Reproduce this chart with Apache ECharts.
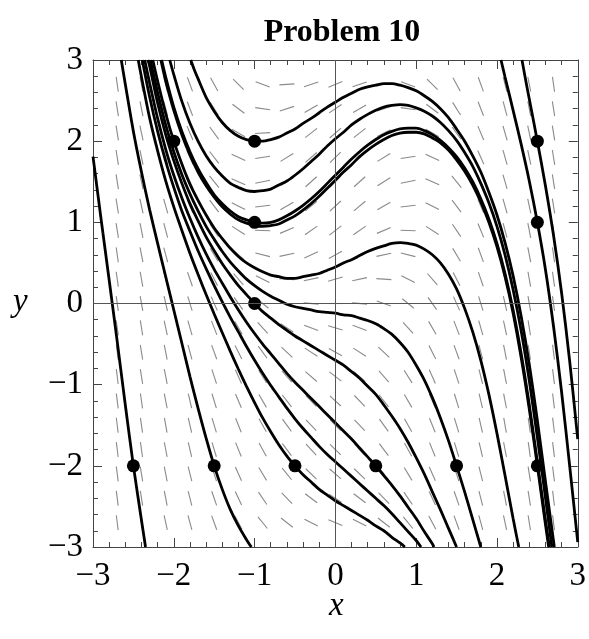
<!DOCTYPE html>
<html>
<head>
<meta charset="utf-8">
<script src="https://cdn.jsdelivr.net/npm/echarts@6/dist/echarts.min.js"></script>
<style>
html,body{margin:0;padding:0;background:#fff;}
#chart{width:589px;height:639px;}
</style>
</head>
<body>
<div id="chart"></div>
<script>
// ---- Data ----
const titleText = 'Problem 10';
const xTicks = [-3, -2, -1, 0, 1, 2, 3];
const yTicks = [-3, -2, -1, 0, 1, 2, 3];

// slope-field grid (dash centres) and dash angles in degrees, rows from y=2.7 (top) to y=-2.7
const fieldX = [-2.7,-2.4,-2.1,-1.8,-1.5,-1.2,-0.9,-0.6,-0.3,0,0.3,0.6,0.9,1.2,1.5,1.8,2.1,2.4,2.7];
const fieldY = [2.7,2.4,2.1,1.8,1.5,1.2,0.9,0.6,0.3,0,-0.3,-0.6,-0.9,-1.2,-1.5,-1.8,-2.1,-2.4,-2.7];
const fieldAngles = [
  [-82,-79,-76,-70,-61,-45,-21,4,19,23,19,4,-21,-45,-61,-70,-76,-79,-82],
  [-81,-79,-75,-69,-58,-37,-8,18,30,34,30,18,-8,-37,-58,-69,-75,-79,-81],
  [-81,-78,-74,-67,-54,-30,3,27,38,41,38,27,3,-30,-54,-67,-74,-78,-81],
  [-81,-78,-74,-66,-52,-25,9,32,41,44,41,32,9,-25,-52,-66,-74,-78,-81],
  [-81,-78,-74,-66,-51,-24,11,32,42,45,42,32,11,-24,-51,-66,-74,-78,-81],
  [-81,-78,-74,-67,-53,-27,7,30,40,43,40,30,7,-27,-53,-67,-74,-78,-81],
  [-81,-79,-75,-68,-56,-33,-2,23,35,38,35,23,-2,-33,-56,-68,-75,-79,-81],
  [-82,-79,-75,-70,-59,-41,-14,12,25,29,25,12,-14,-41,-59,-70,-75,-79,-82],
  [-82,-80,-76,-71,-63,-49,-27,-4,12,16,12,-4,-27,-49,-63,-71,-76,-80,-82],
  [-82,-80,-77,-73,-66,-55,-39,-20,-5,0,-5,-20,-39,-55,-66,-73,-77,-80,-82],
  [-82,-81,-78,-74,-69,-60,-48,-33,-21,-16,-21,-33,-48,-60,-69,-74,-78,-81,-82],
  [-83,-81,-79,-75,-70,-63,-54,-43,-33,-29,-33,-43,-54,-63,-70,-75,-79,-81,-83],
  [-83,-81,-79,-76,-72,-66,-58,-49,-41,-38,-41,-49,-58,-66,-72,-76,-79,-81,-83],
  [-83,-82,-79,-77,-73,-67,-60,-52,-46,-43,-46,-52,-60,-67,-73,-77,-79,-82,-83],
  [-83,-82,-80,-77,-73,-68,-61,-54,-47,-45,-47,-54,-61,-68,-73,-77,-80,-82,-83],
  [-83,-82,-79,-77,-73,-68,-61,-53,-47,-44,-47,-53,-61,-68,-73,-77,-79,-82,-83],
  [-83,-81,-79,-76,-72,-66,-59,-51,-44,-41,-44,-51,-59,-66,-72,-76,-79,-81,-83],
  [-83,-81,-79,-76,-71,-65,-56,-46,-37,-34,-37,-46,-56,-65,-71,-76,-79,-81,-83],
  [-83,-81,-78,-75,-70,-62,-51,-38,-27,-23,-27,-38,-51,-62,-70,-75,-78,-81,-83]
];

// marked initial points
const pointsX = [-1, -1, -1, -2, 2.5, 2.5, 2.5, -2.5, -1.5, -0.5, 0.5, 1.5];
const pointsY = [ 2,  1,  0,  2,   2,   1,  -2,   -2,   -2,   -2,  -2,  -2];

// solution curves, [x, y] pairs
const curveA = [[-1.79,3.0],[-1.75,2.89],[-1.7,2.77],[-1.6,2.54],[-1.5,2.37],[-1.4,2.23],[-1.3,2.13],[-1.2,2.06],[-1.1,2.02],[-1.0,2.0],[-0.9,2.0],[-0.8,2.02],[-0.7,2.05],[-0.6,2.10],[-0.5,2.15],[-0.4,2.22],[-0.3,2.28],[-0.2,2.35],[-0.1,2.42],[0,2.48],[0.1,2.54],[0.2,2.59],[0.3,2.64],[0.4,2.67],[0.5,2.69],[0.6,2.71],[0.7,2.71],[0.8,2.69],[0.9,2.66],[1.0,2.62],[1.1,2.56],[1.2,2.49],[1.3,2.40],[1.4,2.29],[1.5,2.15],[1.6,2.0],[1.7,1.82],[1.8,1.62],[1.9,1.37],[2.0,1.09],[2.1,0.75],[2.2,0.34],[2.3,-0.16],[2.4,-0.75],[2.5,-1.44],[2.6,-2.19],[2.71,-3.0]];
const curveB = [[-2.05,3.0],[-2.0,2.82],[-1.9,2.49],[-1.8,2.22],[-1.7,2.0],[-1.6,1.82],[-1.5,1.68],[-1.4,1.57],[-1.3,1.48],[-1.2,1.43],[-1.1,1.39],[-1.0,1.38],[-0.9,1.39],[-0.8,1.41],[-0.7,1.46],[-0.6,1.51],[-0.5,1.58],[-0.4,1.66],[-0.3,1.75],[-0.2,1.84],[-0.1,1.94],[0,2.03],[0.1,2.11],[0.2,2.20],[0.3,2.27],[0.4,2.33],[0.5,2.38],[0.6,2.42],[0.7,2.44],[0.8,2.45],[0.9,2.44],[1.0,2.41],[1.1,2.37],[1.2,2.31],[1.3,2.23],[1.4,2.13],[1.5,2.01],[1.6,1.86],[1.7,1.69],[1.8,1.48],[1.9,1.24],[2.0,0.95],[2.1,0.60],[2.2,0.17],[2.3,-0.34],[2.4,-0.95],[2.5,-1.65],[2.6,-2.39],[2.68,-3.0]];
const curveC = [[-2.15,3.0],[-2.1,2.79],[-2.0,2.42],[-1.9,2.12],[-1.8,1.87],[-1.7,1.66],[-1.6,1.49],[-1.5,1.34],[-1.4,1.23],[-1.3,1.14],[-1.2,1.07],[-1.1,1.03],[-1.0,1.0],[-0.9,0.99],[-0.8,1.0],[-0.7,1.03],[-0.6,1.08],[-0.5,1.14],[-0.4,1.21],[-0.3,1.29],[-0.2,1.38],[-0.1,1.48],[0,1.58],[0.1,1.68],[0.2,1.78],[0.3,1.87],[0.4,1.95],[0.5,2.02],[0.6,2.08],[0.7,2.12],[0.8,2.15],[0.9,2.16],[1.0,2.16],[1.1,2.13],[1.2,2.08],[1.3,2.01],[1.4,1.92],[1.5,1.81],[1.6,1.67],[1.7,1.50],[1.8,1.29],[1.9,1.04],[2.0,0.74],[2.1,0.37],[2.2,-0.08],[2.3,-0.62],[2.4,-1.25],[2.5,-1.95],[2.6,-2.67],[2.65,-3.0]];
const curveD = [[-2.16,3.0],[-2.1,2.74],[-2.0,2.38],[-1.9,2.08],[-1.8,1.83],[-1.7,1.62],[-1.6,1.45],[-1.5,1.31],[-1.4,1.19],[-1.3,1.10],[-1.2,1.03],[-1.1,0.99],[-1.0,0.96],[-0.9,0.95],[-0.8,0.96],[-0.7,0.98],[-0.6,1.03],[-0.5,1.08],[-0.4,1.15],[-0.3,1.23],[-0.2,1.32],[-0.1,1.42],[0,1.52],[0.1,1.62],[0.2,1.71],[0.3,1.81],[0.4,1.89],[0.5,1.96],[0.6,2.02],[0.7,2.07],[0.8,2.10],[0.9,2.11],[1.0,2.11],[1.1,2.09],[1.2,2.04],[1.3,1.98],[1.4,1.89],[1.5,1.77],[1.6,1.63],[1.7,1.46],[1.8,1.25],[1.9,1.0],[2.0,0.70],[2.1,0.33],[2.2,-0.12],[2.3,-0.67],[2.4,-1.30],[2.5,-2.0],[2.6,-2.72],[2.64,-3.0]];
const curveE = [[-2.26,3.0],[-2.2,2.74],[-2.1,2.34],[-2.0,2.0],[-1.9,1.72],[-1.8,1.47],[-1.7,1.27],[-1.6,1.09],[-1.5,0.93],[-1.4,0.80],[-1.3,0.68],[-1.2,0.58],[-1.1,0.50],[-1.0,0.44],[-0.9,0.39],[-0.8,0.35],[-0.7,0.33],[-0.6,0.31],[-0.5,0.31],[-0.4,0.33],[-0.3,0.35],[-0.2,0.37],[-0.1,0.41],[0,0.45],[0.1,0.50],[0.2,0.54],[0.3,0.59],[0.4,0.64],[0.5,0.68],[0.6,0.71],[0.7,0.74],[0.8,0.75],[0.9,0.74],[1.0,0.72],[1.1,0.67],[1.2,0.60],[1.3,0.50],[1.4,0.36],[1.5,0.18],[1.6,-0.06],[1.7,-0.35],[1.8,-0.70],[1.9,-1.12],[2.0,-1.60],[2.1,-2.12],[2.2,-2.65],[2.27,-3.0]];
const curveF = [[-2.32,3.0],[-2.3,2.93],[-2.2,2.47],[-2.1,2.08],[-2.0,1.76],[-1.9,1.48],[-1.8,1.23],[-1.7,1.02],[-1.6,0.82],[-1.5,0.65],[-1.4,0.49],[-1.3,0.35],[-1.2,0.22],[-1.1,0.11],[-1.0,0.0],[-0.9,-0.10],[-0.8,-0.18],[-0.7,-0.26],[-0.6,-0.33],[-0.5,-0.40],[-0.4,-0.46],[-0.3,-0.52],[-0.2,-0.58],[-0.1,-0.64],[0,-0.70],[0.1,-0.76],[0.2,-0.84],[0.3,-0.92],[0.4,-1.02],[0.5,-1.12],[0.6,-1.25],[0.7,-1.39],[0.8,-1.54],[0.9,-1.71],[1.0,-1.90],[1.1,-2.10],[1.2,-2.32],[1.3,-2.54],[1.4,-2.77],[1.5,-3.0]];
const curveG = [[-2.29,3.0],[-2.2,2.60],[-2.1,2.20],[-2.0,1.87],[-1.9,1.59],[-1.8,1.35],[-1.7,1.14],[-1.6,0.95],[-1.5,0.79],[-1.4,0.64],[-1.3,0.51],[-1.2,0.40],[-1.1,0.30],[-1.0,0.22],[-0.9,0.15],[-0.8,0.09],[-0.7,0.04],[-0.6,-0.01],[-0.5,-0.04],[-0.4,-0.06],[-0.3,-0.08],[-0.2,-0.10],[-0.1,-0.11],[0,-0.12],[0.1,-0.14],[0.2,-0.15],[0.3,-0.18],[0.4,-0.21],[0.5,-0.25],[0.6,-0.31],[0.7,-0.38],[0.8,-0.48],[0.9,-0.60],[1.0,-0.76],[1.1,-0.94],[1.2,-1.16],[1.3,-1.41],[1.4,-1.69],[1.5,-2.0],[1.6,-2.32],[1.7,-2.66],[1.8,-3.0]];
const curveH = [[-2.36,3.0],[-2.3,2.72],[-2.2,2.28],[-2.1,1.90],[-2.0,1.58],[-1.9,1.30],[-1.8,1.05],[-1.7,0.82],[-1.6,0.61],[-1.5,0.42],[-1.4,0.25],[-1.3,0.08],[-1.2,-0.08],[-1.1,-0.23],[-1.0,-0.37],[-0.9,-0.50],[-0.8,-0.62],[-0.7,-0.74],[-0.6,-0.86],[-0.5,-0.97],[-0.4,-1.07],[-0.3,-1.17],[-0.2,-1.27],[-0.1,-1.37],[0,-1.47],[0.1,-1.57],[0.2,-1.67],[0.3,-1.78],[0.4,-1.89],[0.5,-2.0],[0.6,-2.12],[0.7,-2.24],[0.8,-2.37],[0.9,-2.51],[1.0,-2.65],[1.1,-2.81],[1.2,-2.96],[1.22,-3.0]];
const curveI = [[-2.39,3.0],[-2.3,2.55],[-2.2,2.12],[-2.1,1.75],[-2.0,1.43],[-1.9,1.14],[-1.8,0.89],[-1.7,0.65],[-1.6,0.43],[-1.5,0.22],[-1.4,0.02],[-1.3,-0.17],[-1.2,-0.35],[-1.1,-0.53],[-1.0,-0.70],[-0.9,-0.86],[-0.8,-1.01],[-0.7,-1.15],[-0.6,-1.29],[-0.5,-1.42],[-0.4,-1.54],[-0.3,-1.65],[-0.2,-1.76],[-0.1,-1.86],[0,-1.95],[0.1,-2.04],[0.2,-2.13],[0.3,-2.22],[0.4,-2.31],[0.5,-2.40],[0.6,-2.49],[0.7,-2.59],[0.8,-2.70],[0.9,-2.81],[1.0,-2.92],[1.06,-3.0]];
const curveJ = [[-2.44,3.0],[-2.4,2.79],[-2.3,2.29],[-2.2,1.88],[-2.1,1.51],[-2.0,1.19],[-1.9,0.90],[-1.8,0.62],[-1.7,0.36],[-1.6,0.11],[-1.5,-0.13],[-1.4,-0.36],[-1.3,-0.59],[-1.2,-0.81],[-1.1,-1.02],[-1.0,-1.22],[-0.9,-1.41],[-0.8,-1.58],[-0.7,-1.74],[-0.6,-1.88],[-0.5,-2.0],[-0.4,-2.11],[-0.3,-2.20],[-0.2,-2.29],[-0.1,-2.36],[0,-2.43],[0.1,-2.49],[0.2,-2.55],[0.3,-2.61],[0.4,-2.67],[0.5,-2.74],[0.6,-2.80],[0.7,-2.88],[0.8,-2.95],[0.86,-3.0]];
const curveK = [[-2.65,3.0],[-2.6,2.70],[-2.5,2.12],[-2.4,1.62],[-2.3,1.16],[-2.2,0.74],[-2.1,0.33],[-2.0,-0.08],[-1.9,-0.49],[-1.8,-0.90],[-1.7,-1.29],[-1.6,-1.66],[-1.5,-2.0],[-1.4,-2.29],[-1.3,-2.54],[-1.2,-2.74],[-1.1,-2.91],[-1.04,-3.0]];
const curveL = [[-3.0,1.81],[-2.9,1.04],[-2.8,0.29],[-2.7,-0.47],[-2.6,-1.25],[-2.5,-2.0],[-2.4,-2.67],[-2.35,-3.0]];
const curveM = [[2.31,3.0],[2.35,2.78],[2.4,2.52],[2.5,2.0],[2.6,1.45],[2.7,0.84],[2.8,0.13],[2.9,-0.71],[3.0,-1.67]];
const curveN = [[2.05,3.0],[2.1,2.79],[2.2,2.38],[2.3,1.96],[2.4,1.51],[2.5,1.0],[2.6,0.42],[2.7,-0.28],[2.8,-1.09],[2.9,-2.0],[3.0,-2.94]];
const curves = [curveA, curveB, curveC, curveD, curveE, curveF, curveG, curveH, curveI, curveJ, curveK, curveL, curveM, curveN];

// ---- Chart ----
const serif = '"Liberation Serif", "DejaVu Serif", serif';
const fieldData = [];
fieldY.forEach((yy, i) => fieldX.forEach((xx, j) => fieldData.push([xx, yy, fieldAngles[i][j]])));
const dotData = pointsX.map((x, i) => [x, pointsY[i]]);
const minus = v => String(v).replace('-', '\u2212');

const chart = echarts.init(document.getElementById('chart'), null, {renderer: 'canvas'});
const frameColor = '#444';
function makeAxis(kind, pos, show) {
  return {
    type: 'value', position: pos, min: -3, max: 3, interval: 1,
    axisLine: {show: true, onZero: false, lineStyle: {color: frameColor, width: 1}},
    axisTick: {show: true, inside: true, length: 9, lineStyle: {color: frameColor}},
    minorTick: {show: true, splitNumber: 5, length: 5, lineStyle: {color: frameColor}},
    splitLine: {show: false},
    axisLabel: {show: show, formatter: minus, color: '#000', fontFamily: serif, fontSize: 33,
                margin: kind === 'x' ? 13 : 10}
  };
}

const series = [];
series.push({
  type: 'custom', xAxisIndex: 0, yAxisIndex: 0, silent: true, z: 1,
  data: fieldData,
  renderItem: function (params, api) {
    const c = api.coord([api.value(0), api.value(1)]);
    const a = api.value(2) * Math.PI / 180;
    const h = 7.5;
    const dx = h * Math.cos(a), dy = h * Math.sin(a);
    return {type: 'line', shape: {x1: c[0] - dx, y1: c[1] + dy, x2: c[0] + dx, y2: c[1] - dy},
            style: {stroke: '#8a8a8a', lineWidth: 1.1}};
  }
});
series.push({
  type: 'line', data: [], z: 2, silent: true,
  markLine: {symbol: 'none', silent: true, label: {show: false},
    lineStyle: {color: '#555', width: 1, type: 'solid'},
    data: [{xAxis: 0}, {yAxis: 0}]}
});
curves.forEach(c => series.push({
  type: 'line', data: c, showSymbol: false, smooth: 0.3, clip: true, z: 3, silent: true,
  lineStyle: {color: '#000', width: 2.8}
}));
series.push({
  type: 'scatter', data: dotData, symbolSize: 13, z: 4, silent: true,
  itemStyle: {color: '#000', opacity: 1}
});

chart.setOption({
  animation: false,
  backgroundColor: '#fff',
  title: {text: titleText, left: 337, top: 12, textAlign: 'center',
    textStyle: {fontFamily: serif, fontWeight: 'bold', fontSize: 32, color: '#000'}},
  grid: {left: 93, right: 9, top: 60, bottom: 92},
  xAxis: [makeAxis('x', 'bottom', true), makeAxis('x', 'top', false)],
  yAxis: [makeAxis('y', 'left', true), makeAxis('y', 'right', false)],
  graphic: [
    {type: 'text', left: 329, top: 590, style: {text: 'x', font: 'italic 33px ' + serif, fill: '#000'}},
    {type: 'text', left: 13, top: 286, style: {text: 'y', font: 'italic 33px ' + serif, fill: '#000'}}
  ],
  series: series
});
</script>
</body>
</html>
